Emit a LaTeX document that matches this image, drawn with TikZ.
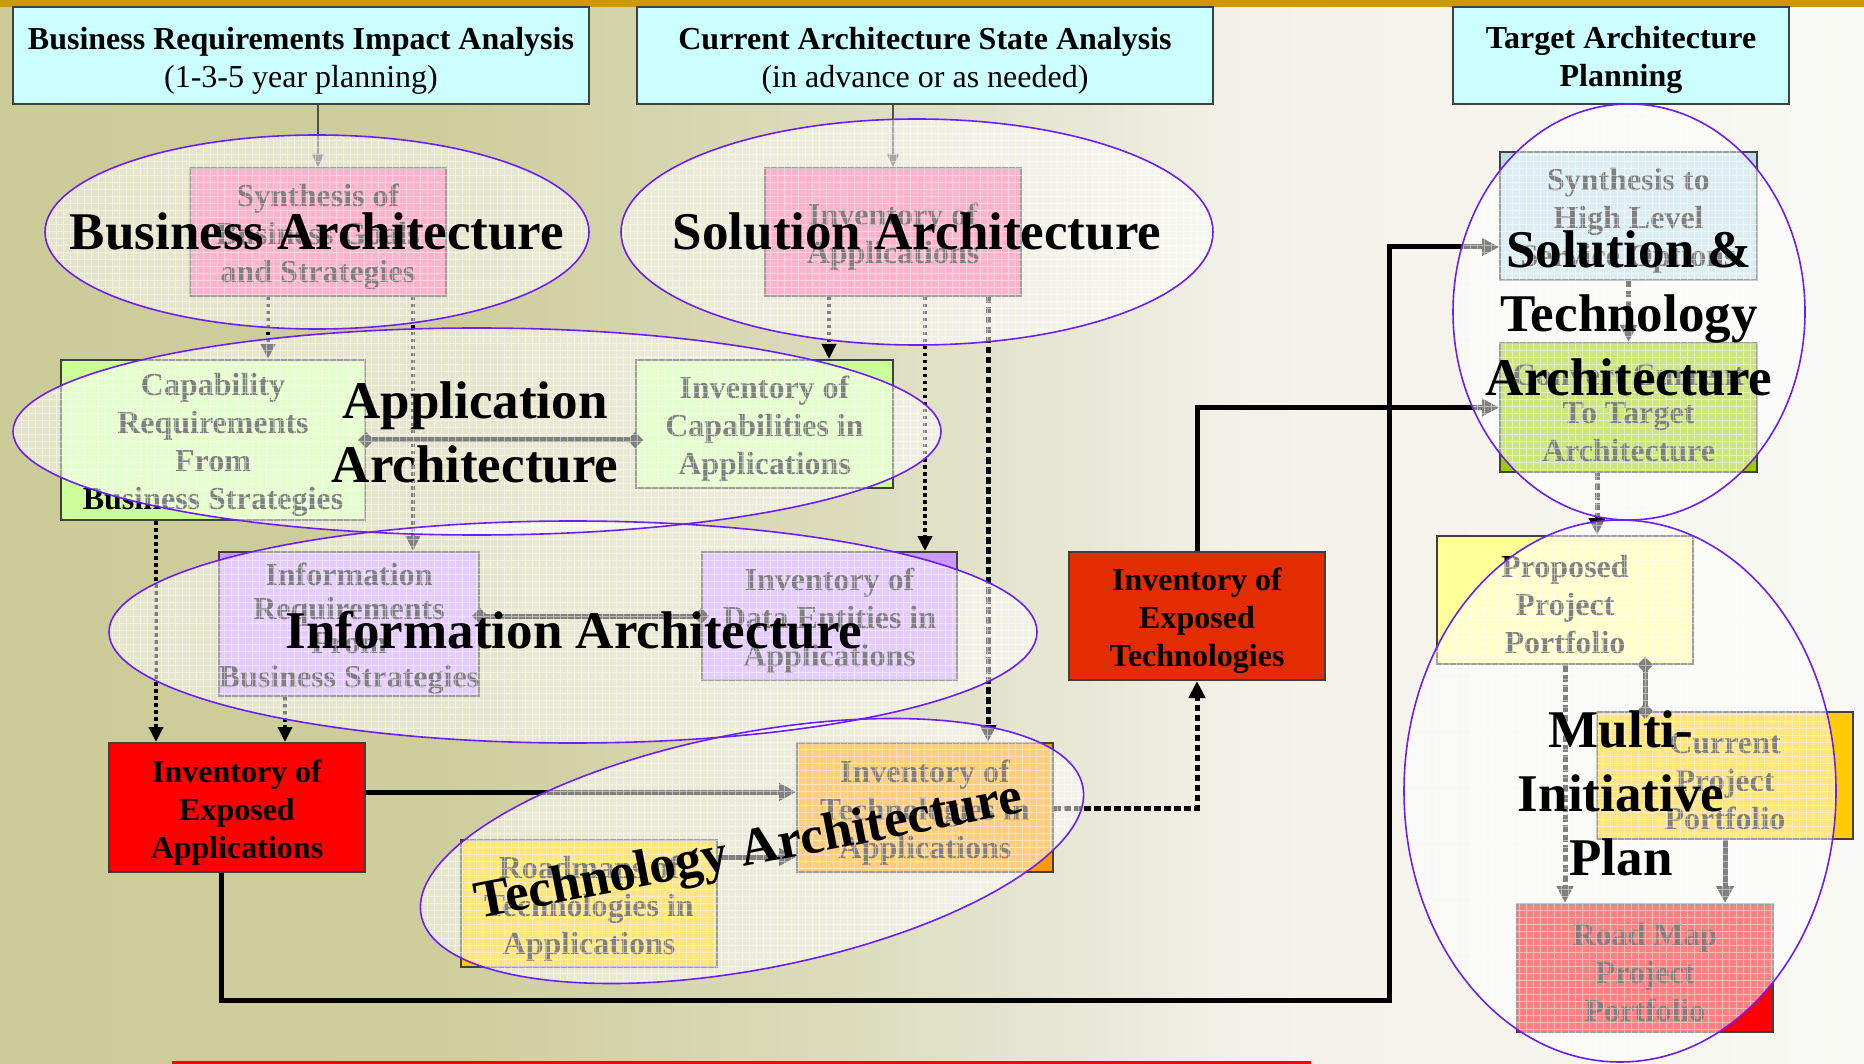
\documentclass[tikz,border=0pt]{standalone}
\usepackage{fontspec}
\setmainfont{Liberation Serif}
\usetikzlibrary{arrows.meta,calc}

% palette
\definecolor{bgA}{RGB}{204,204,153}
\definecolor{bgB}{RGB}{206,206,157}
\definecolor{bgC}{RGB}{220,220,189}
\definecolor{bgD}{RGB}{233,233,217}
\definecolor{bgE}{RGB}{242,242,233}
\definecolor{bgF}{RGB}{249,249,245}
\definecolor{topbar}{RGB}{204,153,0}
\definecolor{boxline}{RGB}{64,64,64}
\definecolor{hdrline}{RGB}{80,80,80}
\definecolor{hdrfill}{RGB}{204,255,255}
\definecolor{pinkbox}{RGB}{255,102,153}
\definecolor{greenbox}{RGB}{204,255,153}
\definecolor{lavbox}{RGB}{204,153,255}
\definecolor{orangebox}{RGB}{255,153,0}
\definecolor{goldbox}{RGB}{255,204,0}
\definecolor{exptechfill}{RGB}{227,45,0}
\definecolor{bluebox}{RGB}{187,221,229}
\definecolor{limebox}{RGB}{153,204,0}
\definecolor{paleyellow}{RGB}{255,255,153}
\definecolor{ellcol}{RGB}{110,30,240}

% background: khaki on the left fading to off-white on the right
\pgfdeclarehorizontalshading{bgshade}{100bp}{color(0bp)=(bgA); color(25bp)=(bgA); color(37bp)=(bgB); color(47.8bp)=(bgC); color(54.5bp)=(bgD); color(58.5bp)=(bgE); color(75bp)=(bgF); color(100bp)=(bgF)}

% taller first line, so that box texts sit a little lower
\newcommand\lift{\rule{0pt}{32pt}}

\tikzset{
  hdr/.style={draw=boxline, line width=2pt, fill=hdrfill, inner sep=0pt, align=center,
              font=\fontsize{32}{38}\selectfont},
  bx/.style={draw=boxline, line width=2pt, inner sep=0pt, align=center,
             font=\fontsize{32}{38}\selectfont\bfseries},
  biglabel/.style={font=\fontsize{53}{64}\selectfont\bfseries, align=center, inner sep=0pt},
  hdrarrow/.style={draw=hdrline, line width=1.5pt, -{Triangle[length=13pt,width=12pt]}},
  dotarrow/.style={line width=3.5pt, dash pattern=on 3.5pt off 3.5pt,
                   -{Triangle[length=15pt,width=14pt]}},
  dotthick/.style={line width=5pt, dash pattern=on 6.5pt off 3.5pt,
                   -{Triangle[length=17pt,width=16pt]}},
  heavy/.style={line width=5pt, -{Triangle[length=17pt,width=17pt]}},
  twoway/.style={line width=5pt, {Diamond[length=16pt,width=16pt]}-{Diamond[length=16pt,width=16pt]},
                 shorten <=-8pt, shorten >=-8pt},
  regionfill/.style={fill=white, fill opacity=0.5},
  regionline/.style={draw=ellcol, line width=1.6pt},
  gridline/.style={draw=white, line width=0.8pt, opacity=0.45},
}

% translucent, gridded region: centre x, centre y, x radius, y radius
\newcommand\regionpatch[4]{%
  \fill[regionfill] (#1,#2) ellipse [x radius=#3, y radius=#4];
  \begin{scope}
    \clip (#1,#2) ellipse [x radius=#3, y radius=#4];
    \draw[gridline, step=7pt] (#1-#3,#2-#4) grid (#1+#3,#2+#4);
  \end{scope}}

\begin{document}
\begin{tikzpicture}[x=1pt,y=-1pt]
\useasboundingbox (0,0) rectangle (1864,1064);
\shade[shading=bgshade] (0,0) rectangle (1864,1064);
\fill[topbar] (0,0) rectangle (1864,7);
\fill[red] (172,1061) rectangle (1311,1064);

% column headers
\node[hdr, minimum width=576pt, minimum height=97pt] (hA) at (301,55.5)
  {\lift\textbf{Business Requirements Impact Analysis}\\(1-3-5 year planning)};
\node[hdr, minimum width=576pt, minimum height=97pt] (hB) at (925,55.5)
  {\lift\textbf{Current Architecture State Analysis}\\(in advance or as needed)};
\node[hdr, font=\fontsize{32}{38}\selectfont\bfseries, minimum width=336pt, minimum height=97pt] (hC) at (1621,55.5)
  {\lift Target Architecture\\Planning};

% work products
\node[bx, fill=pinkbox, minimum width=256pt, minimum height=128pt] (synth) at (318,232)
  {\lift Synthesis of\\Business Goals\\and Strategies};
\node[bx, fill=pinkbox, minimum width=256pt, minimum height=128pt] (invapp) at (893,232)
  {\lift Inventory of\\Applications};
\node[bx, fill=greenbox, minimum width=304pt, minimum height=160pt] (capreq) at (213,440)
  {\lift Capability\\Requirements\\From\\Business Strategies};
\node[bx, fill=greenbox, minimum width=257pt, minimum height=128pt] (invcap) at (764.5,424)
  {\lift Inventory of\\Capabilities in\\Applications};
\node[bx, fill=lavbox, font=\fontsize{32}{34.3}\selectfont\bfseries, minimum width=256pt, minimum height=144pt] (inforeq) at (349,624)
  {\lift Information\\Requirements\\From\\Business Strategies};
\node[bx, fill=lavbox, minimum width=255pt, minimum height=128pt] (invdata) at (829.5,616)
  {\lift Inventory of\\Data Entities in\\Applications};
\node[bx, fill=red, minimum width=256pt, minimum height=129pt] (expapp) at (237,807.5)
  {\lift Inventory of\\Exposed\\Applications};
\node[bx, fill=orangebox, minimum width=256pt, minimum height=129pt] (invtech) at (925,807.5)
  {\lift Inventory of\\Technologies in\\Applications};
\node[bx, fill=goldbox, minimum width=256pt, minimum height=127pt] (roadtech) at (589,903.5)
  {\lift Roadmaps of\\Technologies in\\Applications};
\node[bx, fill=exptechfill, minimum width=256pt, minimum height=128pt] (exptech) at (1197,616)
  {\lift Inventory of\\Exposed\\Technologies};
\node[bx, fill=bluebox, minimum width=257pt, minimum height=128pt] (synhl) at (1628.5,216)
  {\lift Synthesis to\\High Level\\Service Options};
\node[bx, fill=limebox, minimum width=257pt, minimum height=129pt] (convert) at (1628.5,407.5)
  {\lift Convert Current\\To Target\\Architecture};
\node[bx, fill=paleyellow, minimum width=256pt, minimum height=128pt] (proposed) at (1565,600)
  {\lift Proposed\\Project\\Portfolio};
\node[bx, fill=goldbox, minimum width=256pt, minimum height=127pt] (current) at (1725,775.5)
  {\lift Current\\Project\\Portfolio};
\node[bx, fill=red, minimum width=256pt, minimum height=128pt] (roadmap) at (1645,968)
  {\lift Road Map\\Project\\Portfolio};

% connectors
\draw[hdrarrow] (synth.north |- hA.south) -- (synth.north);
\draw[hdrarrow] (invapp.north |- hB.south) -- (invapp.north);
\draw[dotarrow] ([xshift=-50pt]synth.south) -- ([xshift=-50pt]synth.south |- capreq.north);
\draw[dotarrow] ([xshift=95pt]synth.south) -- ([xshift=95pt]synth.south |- inforeq.north);
\draw[dotarrow] ([xshift=-64pt]invapp.south) -- ([xshift=-64pt]invapp.south |- invcap.north);
\draw[dotarrow] ([xshift=32pt]invapp.south) -- ([xshift=32pt]invapp.south |- invdata.north);
\draw[dotthick] ([xshift=95pt]invapp.south) -- ([xshift=95pt]invapp.south |- invtech.north);
\draw[dotarrow] ([xshift=-57pt]capreq.south) -- ([xshift=-57pt]capreq.south |- expapp.north);
\draw[dotarrow] ([xshift=-64pt]inforeq.south) -- ([xshift=-64pt]inforeq.south |- expapp.north);
\draw[twoway] (capreq.east) -- (capreq.east -| invcap.west);
\draw[twoway] ([yshift=8pt]inforeq.east) -- (invdata.west);
\draw[heavy] ([yshift=15.5pt]expapp.east) -- ([yshift=15.5pt]expapp.east -| invtech.west);
\draw[heavy] ([yshift=46.5pt]roadtech.east) -- ([yshift=46.5pt]roadtech.east -| invtech.west);
\draw[dotthick] ([yshift=-0.5pt]invtech.east) -| (exptech.south);
\draw[heavy] (exptech.north) |- (convert.west);
\coordinate (loopcorner) at (1389,1000);
\draw[heavy] ([xshift=-16pt]expapp.south) |- (loopcorner) |- ([yshift=-31pt]synhl.west);
\draw[dotthick] (synhl.south) -- (convert.north);
\draw[dotthick] ([xshift=-31.5pt]convert.south) -- ([xshift=-31.5pt]convert.south |- proposed.north);
\draw[twoway] ([xshift=80pt]proposed.south) -- ([xshift=80pt]proposed.south |- current.north);
\draw[dotthick] (proposed.south) -- (proposed.south |- roadmap.north);
\draw[heavy] (current.south) -- (current.south |- roadmap.north);

% translucent architecture regions
\regionpatch{317}{232}{272}{97}
\regionpatch{917}{232}{296}{113}
\regionpatch{477}{431.5}{464}{103.5}
\regionpatch{573}{632}{464}{111}
\fill[regionfill, rotate around={11:(752,851)}] (752,851) ellipse [x radius=337, y radius=118];
\begin{scope}
  \clip[rotate around={11:(752,851)}] (752,851) ellipse [x radius=337, y radius=118];
  \draw[gridline, step=7pt] (410,712) grid (1090,990);
\end{scope}
\regionpatch{1629}{312}{176}{208}
\regionpatch{1620}{791}{216}{271}

\draw[regionline] (317,232) ellipse [x radius=272, y radius=97];
\draw[regionline] (917,232) ellipse [x radius=296, y radius=113];
\draw[regionline] (477,431.5) ellipse [x radius=464, y radius=103.5];
\draw[regionline] (573,632) ellipse [x radius=464, y radius=111];
\draw[regionline, rotate around={11:(752,851)}] (752,851) ellipse [x radius=337, y radius=118];
\draw[regionline] (1629,312) ellipse [x radius=176, y radius=208];
\draw[regionline] (1620,791) ellipse [x radius=216, y radius=271];

% region titles
\node[biglabel, anchor=base] (lbBus) at (317,250) {Business Architecture};
\node[biglabel, anchor=base] (lbSol) at (917,250) {Solution Architecture};
\node[biglabel] (lbApp) at (475,432.5) {Application\\Architecture};
\node[biglabel, anchor=base] (lbInfo) at (574,648) {Information Architecture};
\node[biglabel, rotate=11] (lbTech) at (749,853) {Technology Architecture};
\node[biglabel] (lbST) at (1629,313) {Solution \&\\Technology\\Architecture};
\node[biglabel] (lbMI) at (1621,793) {Multi-\\Initiative\\Plan};
\end{tikzpicture}
\end{document}
